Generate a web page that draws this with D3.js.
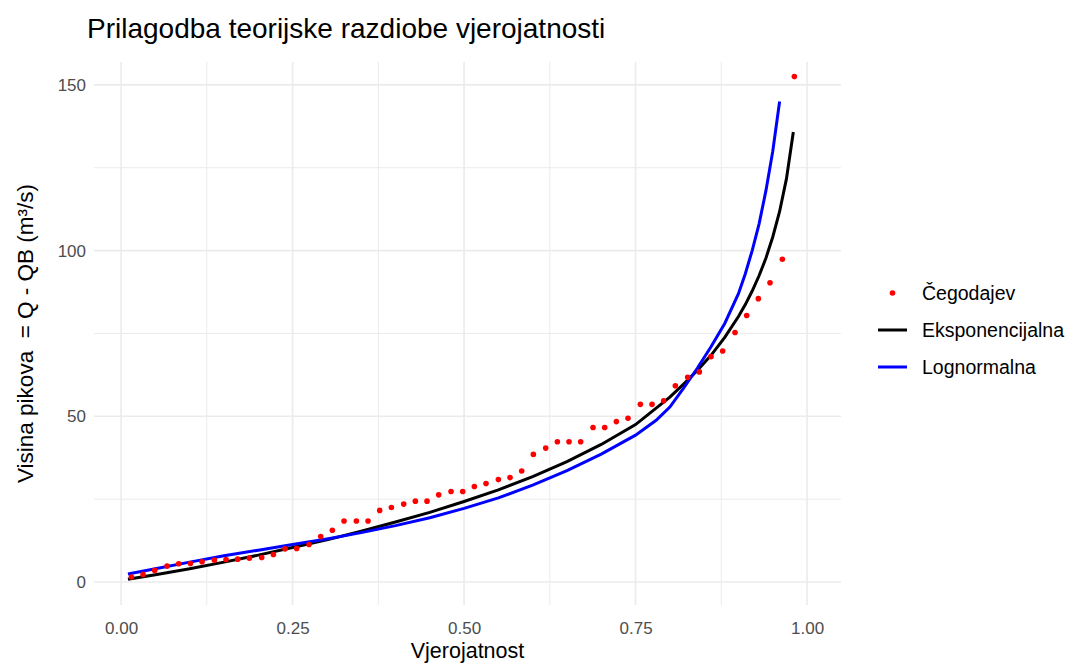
<!DOCTYPE html>
<html>
<head>
<meta charset="utf-8">
<script src="https://cdn.jsdelivr.net/npm/d3@7"></script>
<style>
  body { margin: 0; background: #ffffff; }
  text { font-family: "Liberation Sans", Arial, sans-serif; }
</style>
</head>
<body>
<div id="chart"></div>
<script>
// chart size
var svgWidth = 1068;
var svgHeight = 664;

// panel edges (pixels)
var margin = {
  top: 62,
  right: 227,
  bottom: 59,
  left: 94
};

// Cegodajev plotting positions and observed peaks
var pointProb = [0.015, 0.032, 0.049, 0.067, 0.084, 0.101, 0.118, 0.136, 0.153, 0.170,
  0.187, 0.205, 0.222, 0.239, 0.256, 0.274, 0.291, 0.308, 0.325, 0.343,
  0.360, 0.377, 0.394, 0.412, 0.429, 0.446, 0.463, 0.481, 0.498, 0.515,
  0.532, 0.550, 0.567, 0.584, 0.601, 0.619, 0.636, 0.653, 0.670, 0.688,
  0.705, 0.722, 0.739, 0.757, 0.774, 0.791, 0.808, 0.826, 0.843, 0.860,
  0.877, 0.895, 0.912, 0.929, 0.946, 0.964, 0.9815];
var pointValue = [1.5, 2.3, 3.5, 4.8, 5.5, 5.6, 6.1, 6.6, 6.8, 6.9,
  7.2, 7.4, 8.3, 10.0, 10.1, 11.3, 13.7, 15.6, 18.4, 18.4,
  18.4, 21.6, 22.5, 23.5, 24.4, 24.4, 26.3, 27.3, 27.3, 28.8,
  29.7, 30.9, 31.5, 33.5, 38.5, 40.4, 42.3, 42.3, 42.3, 46.6,
  46.6, 48.4, 49.4, 53.6, 53.6, 54.7, 59.2, 61.8, 63.4, 68.0,
  69.7, 75.3, 80.4, 85.5, 90.3, 97.4, 152.5];

// exponential fit
var expProb = [0.01, 0.05, 0.10, 0.15, 0.20, 0.25, 0.30, 0.35, 0.40, 0.45,
  0.50, 0.55, 0.60, 0.65, 0.70, 0.75, 0.80, 0.82, 0.84, 0.86,
  0.88, 0.90, 0.91, 0.92, 0.93, 0.94, 0.95, 0.96, 0.97, 0.98];
var expValue = [0.8, 2.2, 4.0, 6.0, 8.1, 10.4, 12.7, 15.3, 18.1, 21.0,
  24.3, 27.8, 31.8, 36.3, 41.5, 47.5, 55.8, 59.7, 63.8, 68.4,
  73.8, 80.1, 83.7, 87.8, 92.4, 97.7, 104.1, 111.8, 121.7, 135.8];

// lognormal fit
var logProb = [0.01, 0.05, 0.10, 0.15, 0.20, 0.25, 0.30, 0.35, 0.40, 0.45,
  0.50, 0.55, 0.60, 0.65, 0.70, 0.75, 0.78, 0.80, 0.82, 0.84,
  0.86, 0.88, 0.90, 0.91, 0.92, 0.93, 0.94, 0.95, 0.96];
var logValue = [2.4, 4.0, 6.0, 7.9, 9.6, 11.3, 13.0, 14.9, 17.0, 19.4,
  22.2, 25.4, 29.2, 33.6, 38.6, 44.3, 48.8, 52.8, 58.5, 64.5,
  71.0, 78.0, 87.0, 93.0, 100.0, 108.0, 118.0, 130.0, 145.0];

var xTicks = [0, 0.25, 0.5, 0.75, 1];
var xMinor = [0.125, 0.375, 0.625, 0.875];
var yTicks = [0, 50, 100, 150];
var yMinor = [25, 75, 125];

var legendLabels = ["Čegodajev", "Eksponencijalna", "Lognormalna"];
var legendColors = ["#ff0000", "#000000", "#0000ff"];

var chartWidth = svgWidth - margin.left - margin.right;
var chartHeight = svgHeight - margin.top - margin.bottom;

var svg = d3.select("#chart")
  .append("svg")
  .attr("width", svgWidth)
  .attr("height", svgHeight);

var chartGroup = svg.append("g")
  .attr("transform", `translate(${margin.left}, ${margin.top})`);

var xScale = d3.scaleLinear()
  .domain([-0.0395, 1.0495])
  .range([0, chartWidth]);

var yScale = d3.scaleLinear()
  .domain([-6.94, 156.9])
  .range([chartHeight, 0]);

// minor grid
chartGroup.selectAll(".xminor")
  .data(xMinor)
  .enter()
  .append("line")
  .attr("x1", d => xScale(d))
  .attr("x2", d => xScale(d))
  .attr("y1", 0)
  .attr("y2", chartHeight)
  .attr("stroke", "#ebebeb")
  .attr("stroke-width", 1);

chartGroup.selectAll(".yminor")
  .data(yMinor)
  .enter()
  .append("line")
  .attr("x1", 0)
  .attr("x2", chartWidth)
  .attr("y1", d => yScale(d))
  .attr("y2", d => yScale(d))
  .attr("stroke", "#ebebeb")
  .attr("stroke-width", 1);

// major grid
chartGroup.selectAll(".xmajor")
  .data(xTicks)
  .enter()
  .append("line")
  .attr("x1", d => xScale(d))
  .attr("x2", d => xScale(d))
  .attr("y1", 0)
  .attr("y2", chartHeight)
  .attr("stroke", "#ebebeb")
  .attr("stroke-width", 1.6);

chartGroup.selectAll(".ymajor")
  .data(yTicks)
  .enter()
  .append("line")
  .attr("x1", 0)
  .attr("x2", chartWidth)
  .attr("y1", d => yScale(d))
  .attr("y2", d => yScale(d))
  .attr("stroke", "#ebebeb")
  .attr("stroke-width", 1.6);

// axes (labels only)
var bottomAxis = d3.axisBottom(xScale)
  .tickValues(xTicks)
  .tickFormat(d3.format(".2f"))
  .tickSize(0)
  .tickPadding(17);

var leftAxis = d3.axisLeft(yScale)
  .tickValues(yTicks)
  .tickFormat(d3.format("d"))
  .tickSize(0)
  .tickPadding(8);

var xAxis = chartGroup.append("g")
  .attr("transform", `translate(0, ${chartHeight})`)
  .call(bottomAxis);

var yAxis = chartGroup.append("g")
  .call(leftAxis);

[xAxis, yAxis].forEach(function(ax) {
  ax.select(".domain").remove();
  ax.selectAll("text")
    .attr("fill", "#4d4d4d")
    .style("font-size", "17px")
    .style("font-family", "'Liberation Sans', Arial, sans-serif");
});

// fitted lines
var expData = expProb.map((p, i) => [p, expValue[i]]);
var logData = logProb.map((p, i) => [p, logValue[i]]);

var line = d3.line()
  .x(d => xScale(d[0]))
  .y(d => yScale(d[1]));

chartGroup.append("path")
  .datum(expData)
  .attr("d", line)
  .attr("fill", "none")
  .attr("stroke", "#000000")
  .attr("stroke-width", 3);

chartGroup.append("path")
  .datum(logData)
  .attr("d", line)
  .attr("fill", "none")
  .attr("stroke", "#0000ff")
  .attr("stroke-width", 3);

// observed points
chartGroup.selectAll(".pt")
  .data(pointProb)
  .enter()
  .append("circle")
  .attr("cx", d => xScale(d))
  .attr("cy", (d, i) => yScale(pointValue[i]))
  .attr("r", 2.8)
  .attr("fill", "#ff0000");

// titles
svg.append("text")
  .attr("x", 87)
  .attr("y", 38)
  .style("font-size", "28px")
  .attr("fill", "#000000")
  .text("Prilagodba teorijske razdiobe vjerojatnosti");

svg.append("text")
  .attr("x", margin.left + chartWidth / 2)
  .attr("y", 658)
  .attr("text-anchor", "middle")
  .style("font-size", "21.5px")
  .attr("fill", "#000000")
  .text("Vjerojatnost");

svg.append("text")
  .attr("transform", `translate(33, ${margin.top + chartHeight / 2}) rotate(-90)`)
  .attr("text-anchor", "middle")
  .style("font-size", "22.5px")
  .style("white-space", "pre")
  .attr("fill", "#000000")
  .text("Visina pikova  = Q - QB (m³/s)");

// legend
var legend = svg.append("g")
  .attr("transform", "translate(878, 293)");

legend.append("circle")
  .attr("cx", 14.5)
  .attr("cy", 0)
  .attr("r", 2.8)
  .attr("fill", legendColors[0]);

legend.selectAll(".key")
  .data([1, 2])
  .enter()
  .append("line")
  .attr("x1", 0)
  .attr("x2", 29)
  .attr("y1", d => d * 37)
  .attr("y2", d => d * 37)
  .attr("stroke", d => legendColors[d])
  .attr("stroke-width", 3);

legend.selectAll(".lab")
  .data(legendLabels)
  .enter()
  .append("text")
  .attr("x", 44)
  .attr("y", (d, i) => i * 37)
  .attr("dy", "0.35em")
  .style("font-size", "19.5px")
  .attr("fill", "#000000")
  .text(d => d);
</script>
</body>
</html>
